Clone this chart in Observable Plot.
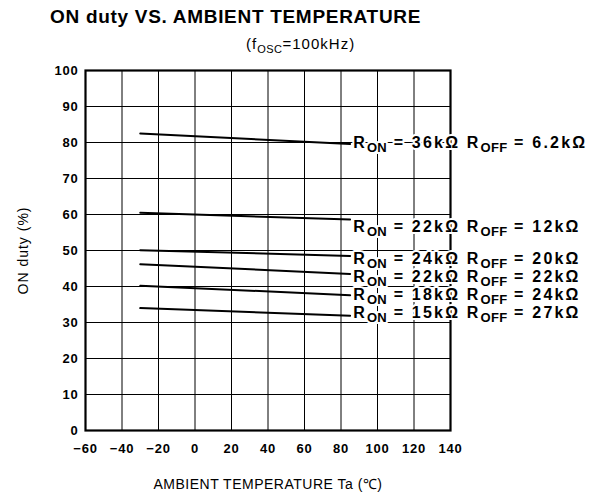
<!DOCTYPE html>
<html>
<head>
<meta charset="utf-8">
<script src="https://cdn.jsdelivr.net/npm/d3@7"></script>
<script src="https://cdn.jsdelivr.net/npm/@observablehq/plot@0.6"></script>
<style>
  body { margin: 0; background: white; width: 590px; height: 496px; overflow: hidden; font-family: "Liberation Sans", sans-serif; }
  #head { position: relative; height: 60px; }
  #title { position: absolute; left: 50px; top: 6px; font-size: 19px; font-weight: bold; letter-spacing: 0.7px; }
  #sub { position: absolute; left: 246px; top: 35px; font-size: 15px; letter-spacing: 1px; }
  #sub sub { font-size: 11px; letter-spacing: 0.5px; }
</style>
</head>
<body>
<div id="head">
  <div id="title">ON duty VS. AMBIENT TEMPERATURE</div>
  <div id="sub">(f<sub>OSC</sub>=100kHz)</div>
</div>
<div id="chart"></div>
<script>
// Data
const xTicks = [-60, -40, -20, 0, 20, 40, 60, 80, 100, 120, 140];
const yTicks = [0, 10, 20, 30, 40, 50, 60, 70, 80, 90, 100];
const tempStart = -30;
const tempEnd = 85;
const ronValues = ["36kΩ", "22kΩ", "24kΩ", "22kΩ", "18kΩ", "15kΩ"];
const roffValues = ["6.2kΩ", "12kΩ", "20kΩ", "22kΩ", "24kΩ", "27kΩ"];
const dutyAtStart = [82.5, 60.5, 50.1, 46.2, 40.2, 34.0];
const dutyAtEnd = [79.6, 58.6, 48.5, 43.5, 37.6, 31.9];
const labelDuty = [80.0, 56.6, 47.8, 42.7, 37.6, 32.6];

const lines = [];
ronValues.forEach((r, i) => {
  lines.push({series: i, t: tempStart, duty: dutyAtStart[i]});
  lines.push({series: i, t: tempEnd, duty: dutyAtEnd[i]});
});
const labels = ronValues.map((r, i) => ({
  t: tempEnd, duty: labelDuty[i],
  text: `RON = ${r} ROFF = ${roffValues[i]}`
}));

const chart = Plot.plot({
  width: 590,
  height: 436,
  marginTop: 10,
  marginBottom: 66,
  marginLeft: 85,
  marginRight: 140,
  style: {fontFamily: "Liberation Sans, sans-serif", color: "black", background: "white", overflow: "visible"},
  x: {domain: [-60, 140]},
  y: {domain: [0, 100]},
  marks: [
    Plot.ruleX(xTicks, {stroke: "black", strokeWidth: 1}),
    Plot.ruleY(yTicks, {stroke: "black", strokeWidth: 1}),
    Plot.frame({stroke: "black", strokeWidth: 2.2}),
    Plot.line(lines, {x: "t", y: "duty", z: "series", stroke: "black", strokeWidth: 2}),
    Plot.text(labels, {x: "t", y: "duty", text: "text", textAnchor: "start", dx: 3,
      fontSize: 16, fontWeight: "bold", fill: "black", stroke: "white", strokeWidth: 4,
      ariaDescription: "rlabels"}),
    Plot.axisX({ticks: xTicks, tickSize: 0, tickPadding: 13, fontSize: 13, fontWeight: "bold",
      label: "AMBIENT TEMPERATURE Ta (℃)", labelAnchor: "center", labelOffset: 58}),
    Plot.axisY({ticks: yTicks, tickSize: 0, tickPadding: 7, fontSize: 13, fontWeight: "bold",
      label: "ON duty (%)", labelAnchor: "center", labelOffset: 67})
  ]
});
document.getElementById("chart").appendChild(chart);

// subscripts for R_ON / R_OFF labels
d3.select(chart).selectAll('g[aria-description="rlabels"] text').each(function () {
  const s = this.textContent;
  const parts = s.split(/(ON|OFF)/).filter(p => p.length);
  const el = d3.select(this);
  el.text(null);
  let lowered = false;
  parts.forEach(p => {
    if (p === "ON" || p === "OFF") {
      el.append("tspan").attr("dy", 4).attr("font-size", 13).attr("letter-spacing", "0.3px").text(p);
      lowered = true;
    } else {
      const t = el.append("tspan").attr("letter-spacing", "2.2px").text(p);
      if (lowered) { t.attr("dy", -4); lowered = false; }
    }
  });
});
// axis label styles (drop arrows)
d3.select(chart).selectAll('g[aria-label="x-axis label"] text')
  .text("AMBIENT TEMPERATURE Ta (℃)").attr("font-size", 14).attr("font-weight", "normal").attr("letter-spacing", "0.5px");
d3.select(chart).selectAll('g[aria-label="y-axis label"] text')
  .text("ON duty (%)").attr("font-size", 14).attr("font-weight", "normal").attr("letter-spacing", "1px");
d3.select(chart).selectAll('g[aria-label="x-axis tick label"] text, g[aria-label="y-axis tick label"] text')
  .attr("letter-spacing", "0.8px");
</script>
</body>
</html>
